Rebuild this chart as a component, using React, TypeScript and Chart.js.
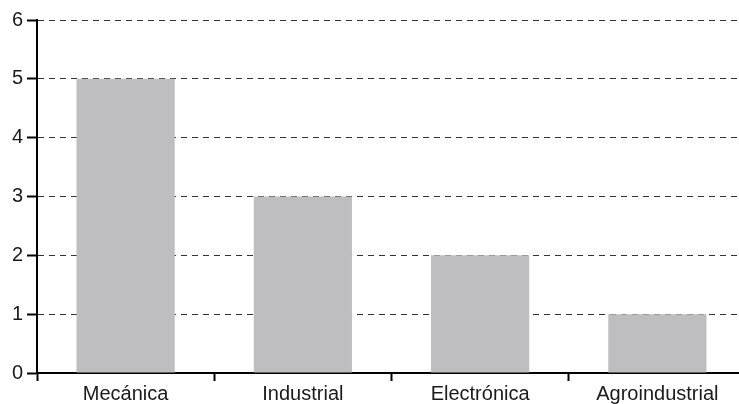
import React, { useEffect, useRef } from "react";
import { Chart, registerables } from "chart.js";

Chart.register(...registerables);

const categories = ["Mecánica", "Industrial", "Electrónica", "Agroindustrial"];
const values = [5, 3, 2, 1];
const yTicks = [0, 1, 2, 3, 4, 5, 6];

export default function App() {
  const ref = useRef<HTMLCanvasElement | null>(null);
  useEffect(() => {
    if (!ref.current) return;
    const chart = new Chart(ref.current, {
      type: "bar",
      data: {
        labels: categories,
        datasets: [
          {
            data: values,
            backgroundColor: "#bebec0",
            borderWidth: 0,
            barPercentage: 0.554,
            categoryPercentage: 1,
          },
        ],
      },
      options: {
        animation: false,
        responsive: false,
        maintainAspectRatio: false,
        layout: { padding: { top: 20, right: 0, left: 0, bottom: 0 } },
        plugins: { legend: { display: false }, tooltip: { enabled: false } },
        scales: {
          x: {
            offset: true,
            grid: {
              display: true,
              drawOnChartArea: false,
              drawTicks: true,
              tickLength: 8,
              tickWidth: 2,
              tickColor: "#000",
              offset: true,
            },
            border: { display: true, color: "#000", width: 2 },
            ticks: {
              color: "#1a1a1a",
              font: { family: "'Liberation Sans', Arial, sans-serif", size: 20, lineHeight: 1 },
              padding: 3,
              maxRotation: 0,
            },
            afterFit: (s: any) => {
              s.height = 31;
            },
          },
          y: {
            min: 0,
            max: 6,
            afterBuildTicks: (s: any) => {
              s.ticks = yTicks.map((v) => ({ value: v }));
            },
            grid: {
              color: "#333",
              lineWidth: 1,
              tickLength: 10,
              tickWidth: 2,
              tickColor: "#000",
            },
            border: { display: true, color: "#000", width: 2, dash: [6, 5] },
            ticks: {
              color: "#1a1a1a",
              font: { family: "'Liberation Sans', Arial, sans-serif", size: 20 },
              padding: 4,
            },
            afterFit: (s: any) => {
              s.width = 37;
            },
          },
        },
      },
    });
    return () => chart.destroy();
  }, []);
  return (
    <div
      style={{
        position: "fixed",
        left: 0,
        top: 0,
        width: 739,
        height: 404,
        overflow: "hidden",
        background: "#fff",
      }}
    >
      <canvas ref={ref} width={746} height={404} style={{ width: 746, height: 404, display: "block" }} />
    </div>
  );
}
